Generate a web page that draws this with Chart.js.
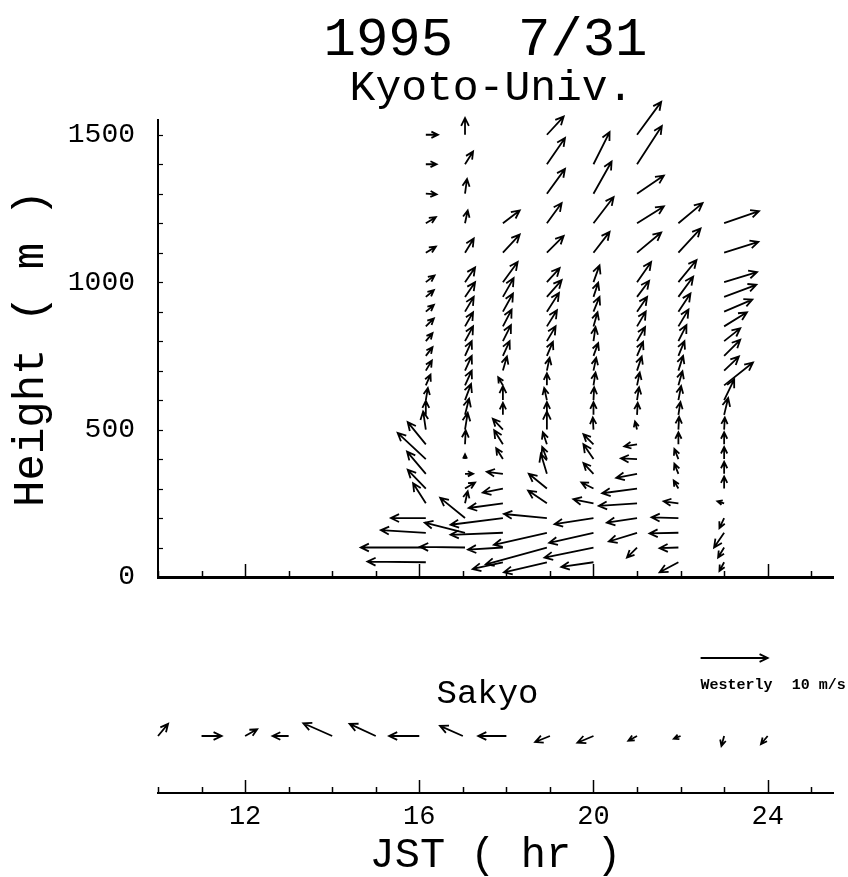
<!DOCTYPE html>
<html><head><meta charset="utf-8">
<script src="https://cdn.jsdelivr.net/npm/chart.js@4.4.1/dist/chart.umd.min.js"></script>
<style>
html,body{margin:0;padding:0;background:#fff;width:848px;height:877px;overflow:hidden}
#top{position:absolute;left:0;top:0}
#bot{position:absolute;left:0;top:660px}
</style></head><body>
<canvas id="top" width="848" height="700"></canvas>
<canvas id="bot" width="848" height="217"></canvas>
<script>
const FONT = "'Liberation Mono', 'DejaVu Sans Mono', monospace";
const HOURS_PER_MS = 0.154;   // arrow scale: 10 m/s = 1.54 hr of axis length

// ---- Kyoto-Univ. profiles ----
const profileTimes = [16.15, 17.05, 17.92, 18.93, 20.0, 21.0, 21.95, 23.0];
const heights = [50,100,150,200,250,300,350,400,450,500,550,600,650,700,750,800,850,900,950,1000,1100,1200,1300,1400,1500];

const uA = [-8.7,-9.7,-6.7,-5.2,-1.9,-2.7,-2.8,-4.2,-2.7,-0.4,0.0,0.3,0.7,0.9,1.0,1.0,1.2,1.2,1.2,1.3,1.5,1.5,1.6,1.6,1.8];
const vA = [0.1,0.0,0.4,0.0,3.0,2.8,3.3,3.9,3.3,2.7,2.1,1.8,1.6,1.5,1.3,1.2,1.2,1.0,1.0,1.0,0.9,0.9,-0.1,0.0,0.0];
const uB = [null,-6.7,-6.0,-3.7,0.4,1.5,1.2,0.0,0.1,0.4,0.6,0.9,1.0,1.0,1.0,1.2,1.2,1.3,1.5,1.5,1.3,0.4,0.3,1.2,0.0];
const vB = [null,0.1,1.5,3.0,1.8,0.9,0.0,0.7,2.1,2.5,2.4,2.4,2.2,2.2,2.2,2.2,2.1,2.2,2.2,2.2,2.1,1.9,2.2,1.9,2.5];
const uC = [-4.5,-5.2,-7.8,-7.8,-5.1,-3.0,-2.4,-1.0,-1.3,-1.5,0.0,0.0,-0.7,0.6,1.0,1.2,1.3,1.5,1.6,2.2,2.5,2.5,null,null,null];
const vC = [-1.0,-0.3,-0.3,-1.0,-0.7,-0.6,0.3,1.6,2.1,1.6,1.8,2.1,1.2,2.1,2.2,2.4,2.5,2.7,2.8,3.0,2.7,1.9,null,null,null];
const uD = [-6.4,-9.1,-7.9,-6.4,-2.8,-2.7,-0.9,-0.7,-0.6,0.0,0.0,-0.4,0.0,0.4,0.9,1.3,1.5,1.8,2.2,1.9,2.5,2.2,2.7,2.7,2.5];
const vD = [-1.5,-2.5,-1.8,0.6,1.9,2.2,3.0,1.8,1.8,2.7,1.9,1.8,1.8,1.9,2.1,2.2,2.4,2.8,2.5,2.1,2.5,3.0,3.7,3.9,2.7];
const uE = [-4.8,-7.3,-6.6,-5.8,-3.0,-1.8,-1.5,-1.5,-1.5,-0.1,0.0,0.1,0.3,0.4,0.7,0.3,0.6,0.9,0.7,0.9,2.4,3.0,2.7,2.4,null];
const vE = [-0.7,-1.5,-1.5,-0.9,0.6,0.9,1.6,2.2,1.5,1.8,1.9,1.9,1.9,1.9,1.9,2.1,2.1,2.2,2.1,2.5,3.1,3.9,4.8,4.8,null];
const uF = [null,-1.5,-4.2,-4.5,-5.7,-5.2,-3.1,-2.4,-1.9,-0.3,0.1,0.3,0.4,0.7,0.9,1.2,1.3,1.5,1.8,2.1,3.6,4.0,4.0,3.7,3.6];
const vF = [null,-1.5,-1.3,-0.7,-0.4,-0.7,-0.6,0.1,-0.3,1.2,1.8,1.9,1.9,2.1,2.1,2.1,2.2,2.2,2.4,3.0,3.0,2.5,2.7,5.7,4.9];
const uG = [-2.8,-2.8,-4.3,-4.0,-2.2,-0.7,-0.6,-0.6,0.0,0.1,0.3,0.4,0.6,0.7,0.9,1.2,1.5,1.8,2.2,2.7,3.3,3.6,null,null,null];
const vG = [-1.5,-0.1,-0.1,0.1,0.3,1.2,1.5,1.5,1.8,1.9,1.9,2.1,2.1,2.2,2.2,2.4,2.5,2.7,3.0,3.3,3.6,3.0,null,null,null];
const uH = [-0.7,-0.9,-1.5,-0.7,-1.0,0.0,0.0,0.0,0.0,0.1,0.6,1.5,4.3,2.2,2.4,2.4,3.4,4.2,4.8,4.9,5.1,5.2,null,null,null];
const vH = [-1.3,-1.5,-2.2,-1.5,0.3,1.8,1.8,1.8,1.8,1.8,2.5,3.1,3.4,2.1,2.4,1.9,2.1,1.8,1.8,1.5,1.6,1.8,null,null,null];

const profileU = [uA,uB,uC,uD,uE,uF,uG,uH];
const profileV = [vA,vB,vC,vD,vE,vF,vG,vH];

// ---- Sakyo surface station ----
const sakyoTimes = [10,11,12,13,14,15,16,17,18,19,20,21,22,23,24];
const sakyoU = [1.5,3.0,1.8,-2.4,-4.3,-3.9,-4.5,-3.4,-4.2,-2.2,-2.4,-1.3,-1.0,-0.4,-1.0];
const sakyoV = [1.8,0.0,1.0,0.0,1.9,1.8,0.0,1.5,0.0,-0.9,-1.0,-0.7,-0.4,-1.5,-1.2];

const yTickValues = [0,100,200,300,400,500,600,700,800,900,1000,1100,1200,1300,1400,1500];
const yTickLabels = [0, 500, 1000, 1500];
const xTickValues = [10,11,12,13,14,15,16,17,18,19,20,21,22,23,24,25];
const xTickLabels = [12, 16, 20, 24];

function drawArrow(ctx, x0, y0, x1, y1) {
  const dx = x1 - x0, dy = y1 - y0, L = Math.hypot(dx, dy);
  if (L < 0.5) return;
  const h = Math.min(L, Math.min(9, 3 + L * 0.35));
  const a = Math.atan2(dy, dx), b = 0.45;
  ctx.beginPath();
  ctx.moveTo(x0, y0); ctx.lineTo(x1, y1);
  ctx.moveTo(x1 - h * Math.cos(a - b), y1 - h * Math.sin(a - b));
  ctx.lineTo(x1, y1);
  ctx.lineTo(x1 - h * Math.cos(a + b), y1 - h * Math.sin(a + b));
  ctx.stroke();
}
function pxPerMs(xs) {
  return xs.getPixelForValue(20 + HOURS_PER_MS) - xs.getPixelForValue(20);
}
function drawVectors(chart) {
  const ctx = chart.ctx, xs = chart.scales.x, ys = chart.scales.y, k = pxPerMs(xs);
  ctx.save();
  ctx.strokeStyle = '#000'; ctx.lineWidth = 1.8; ctx.lineJoin = 'miter'; ctx.lineCap = 'butt';
  chart.data.datasets.forEach(ds => {
    ds.data.forEach(p => {
      if (p.u == null) return;
      const x0 = xs.getPixelForValue(p.x), y0 = ys.getPixelForValue(p.y);
      drawArrow(ctx, x0, y0, x0 + p.u * k, y0 - p.v * k);
    });
  });
  ctx.restore();
}
function drawXTicks(chart) {
  const ctx = chart.ctx, xs = chart.scales.x, bottom = chart.chartArea.bottom;
  ctx.save(); ctx.strokeStyle = '#000'; ctx.lineWidth = 1.5;
  xs.ticks.forEach(t => {
    const x = Math.round(xs.getPixelForValue(t.value)) + 0.5;
    const len = xTickLabels.includes(t.value) ? 13 : 6;
    ctx.beginPath(); ctx.moveTo(x, bottom); ctx.lineTo(x, bottom - len); ctx.stroke();
  });
  ctx.restore();
}
const setXTicks = s => { s.ticks = xTickValues.map(v => ({ value: v })); };
const setYTicks = s => { s.ticks = yTickValues.map(v => ({ value: v })); };

const topDatasets = profileTimes.map((t, j) => ({
  data: heights.map((h, i) => ({x: t, y: h, u: profileU[j][i], v: profileV[j][i]})).filter(p => p.u != null),
  pointRadius: 0, showLine: false
}));

const topPlugin = {
  id: 'topDecor',
  afterDraw(chart) {
    const ctx = chart.ctx, ca = chart.chartArea, xs = chart.scales.x, ys = chart.scales.y;
    drawXTicks(chart);
    ctx.save(); ctx.strokeStyle = '#000'; ctx.lineWidth = 1.2;
    ys.ticks.forEach(t => {
      const y = Math.round(ys.getPixelForValue(t.value)) + 0.5;
      ctx.beginPath(); ctx.moveTo(ca.left, y); ctx.lineTo(ca.left + 5, y); ctx.stroke();
    });
    ctx.restore();
    drawVectors(chart);
    const cx = (ca.left + ca.right) / 2 - 4;
    ctx.save(); ctx.fillStyle = '#000'; ctx.textAlign = 'center'; ctx.textBaseline = 'alphabetic';
    ctx.font = '54px ' + FONT; ctx.fillText('1995  7/31', cx - 6, 55);
    ctx.font = '43px ' + FONT; ctx.fillText('Kyoto-Univ.', cx, 100);
    const x1 = xs.getPixelForValue(24), x0 = xs.getPixelForValue(24 - 10 * HOURS_PER_MS);
    const ky = ca.bottom + 81;
    ctx.strokeStyle = '#000'; ctx.lineWidth = 1.8;
    drawArrow(ctx, x0, ky, x1, ky);
    ctx.font = 'bold 15px ' + FONT; ctx.textAlign = 'left';
    ctx.fillText('Westerly', x0, ca.bottom + 112);
    ctx.textAlign = 'right';
    ctx.fillText('10 m/s', x1 + 78, ca.bottom + 112);
    ctx.restore();
  }
};

new Chart(document.getElementById('top'), {
  type: 'scatter',
  data: { datasets: topDatasets },
  options: {
    responsive: false, animation: false, devicePixelRatio: 1,
    layout: { padding: { left: 0, top: 120, right: 15, bottom: 123 } },
    plugins: { legend: { display: false }, tooltip: { enabled: false } },
    scales: {
      x: {
        type: 'linear', min: 10, max: 25.5,
        ticks: { display: false },
        afterBuildTicks: setXTicks,
        grid: { display: false, drawTicks: false },
        border: { display: true, color: '#000', width: 3 },
        afterFit: s => { s.height = 0; }
      },
      y: {
        type: 'linear', min: 0, max: 1550,
        afterBuildTicks: setYTicks,
        ticks: {
          autoSkip: false, padding: 23, color: '#000',
          font: { family: FONT, size: 28 },
          callback: v => (yTickLabels.includes(v) ? String(v) : '')
        },
        grid: { display: false, drawTicks: false },
        border: { display: true, color: '#000', width: 2 },
        title: { display: true, text: 'Height ( m )', color: '#000',
                 font: { family: FONT, size: 44, lineHeight: 1 }, padding: { top: 9, bottom: 0 } },
        afterFit: s => { s.width = 158; }
      }
    }
  },
  plugins: [topPlugin]
});

const botPlugin = {
  id: 'botDecor',
  afterDraw(chart) {
    const ctx = chart.ctx, ca = chart.chartArea;
    drawXTicks(chart);
    drawVectors(chart);
    ctx.save(); ctx.fillStyle = '#000'; ctx.textAlign = 'center'; ctx.textBaseline = 'alphabetic';
    ctx.font = '34px ' + FONT; ctx.fillText('Sakyo', (ca.left + ca.right) / 2 - 8, 43);
    ctx.restore();
  }
};

new Chart(document.getElementById('bot'), {
  type: 'scatter',
  data: { datasets: [{
    data: sakyoTimes.map((t, i) => ({x: t, y: 1, u: sakyoU[i], v: sakyoV[i]})),
    pointRadius: 0, showLine: false
  }] },
  options: {
    responsive: false, animation: false, devicePixelRatio: 1,
    layout: { padding: { left: 158, top: 19, right: 15, bottom: 0 } },
    plugins: { legend: { display: false }, tooltip: { enabled: false } },
    scales: {
      x: {
        type: 'linear', min: 10, max: 25.5,
        afterBuildTicks: setXTicks,
        ticks: {
          autoSkip: false, maxRotation: 0, padding: 8, color: '#000',
          font: { family: FONT, size: 27 },
          callback: v => (xTickLabels.includes(v) ? String(v) : '')
        },
        grid: { display: false, drawTicks: false },
        border: { display: true, color: '#000', width: 2 },
        title: { display: true, text: 'JST ( hr )', color: '#000',
                 font: { family: FONT, size: 42, lineHeight: 1 }, padding: { top: 0, bottom: 0 } },
        afterFit: s => { s.height = 84; }
      },
      y: { display: false, min: 0, max: 2 }
    }
  },
  plugins: [botPlugin]
});
</script>
</body></html>
